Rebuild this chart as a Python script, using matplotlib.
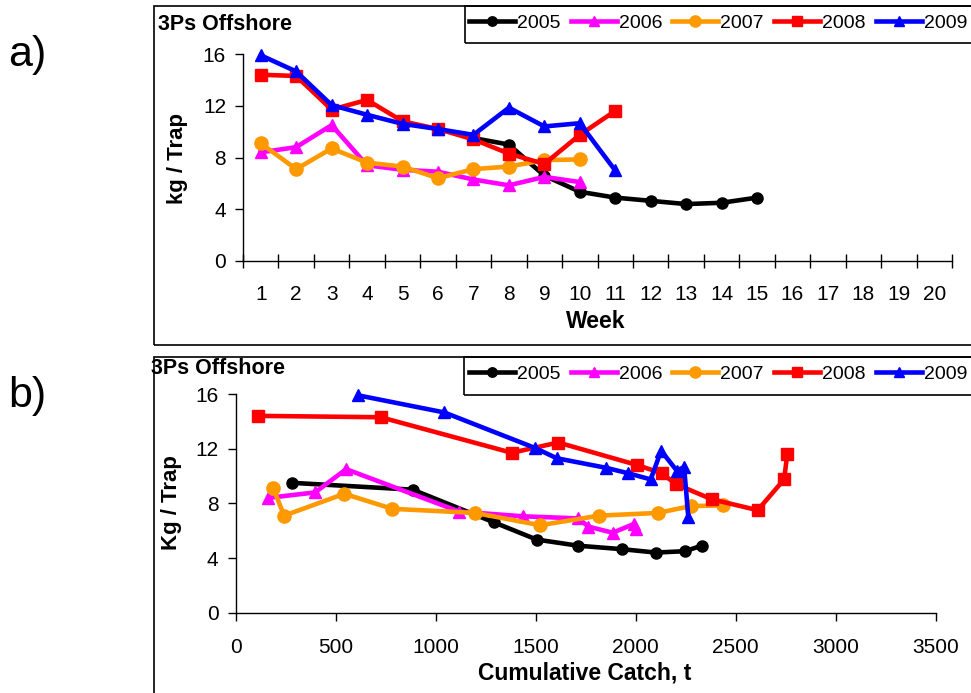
import matplotlib.pyplot as plt
from matplotlib.patches import Rectangle
from matplotlib.lines import Line2D

# ---- data ----
years = ["2005", "2006", "2007", "2008", "2009"]

weeks_2005 = [7, 8, 9, 10, 11, 12, 13, 14, 15]
weeks_2006 = [1, 2, 3, 4, 5, 6, 7, 8, 9, 10]
weeks_2007 = [1, 2, 3, 4, 5, 6, 7, 8, 9, 10]
weeks_2008 = [1, 2, 3, 4, 5, 6, 7, 8, 9, 10, 11]
weeks_2009 = [1, 2, 3, 4, 5, 6, 7, 8, 9, 10, 11]

kg_2005 = [9.5, 9.0, 6.6, 5.35, 4.9, 4.65, 4.4, 4.5, 4.9]
kg_2006 = [8.4, 8.8, 10.5, 7.4, 7.05, 6.9, 6.3, 5.85, 6.5, 6.1]
kg_2007 = [9.1, 7.1, 8.7, 7.6, 7.3, 6.4, 7.1, 7.3, 7.8, 7.85]
kg_2008 = [14.4, 14.3, 11.7, 12.45, 10.8, 10.2, 9.4, 8.3, 7.5, 9.75, 11.6]
kg_2009 = [15.9, 14.65, 12.05, 11.3, 10.6, 10.2, 9.75, 11.85, 10.4, 10.65, 7.0]

cum_2005 = [284, 886, 1294, 1506, 1714, 1931, 2102, 2247, 2331]
cum_2006 = [164, 398, 553, 1119, 1439, 1714, 1764, 1886, 1993, 2003]
cum_2007 = [189, 243, 544, 784, 1198, 1523, 1819, 2111, 2278, 2439]
cum_2008 = [114, 726, 1381, 1614, 2009, 2131, 2203, 2381, 2611, 2743, 2759]
cum_2009 = [614, 1044, 1498, 1606, 1853, 1964, 2076, 2128, 2206, 2243, 2264]

week_labels = [str(i) for i in range(1, 21)]

# ---- styles ----
colors = ["#000000", "#FF00FF", "#FF9900", "#FF0000", "#0000FF"]
markers = ["o", "^", "o", "s", "^"]
msizes = [8, 8, 9.5, 8.5, 8.5]
LW = 3.3

W, H = 971, 693
plt.rcParams["font.family"] = ["Liberation Sans", "DejaVu Sans"]


def fx(px):
    return px / W


def fy(py):
    return 1 - py / H


def rect(x0, y0, x1, y1):
    # axes rect from pixel corners (top-left origin)
    return [fx(x0), fy(y1), (x1 - x0) / W, (y1 - y0) / H]


fig = plt.figure(figsize=(W / 100, H / 100), dpi=100)

# panel borders and legend boxes (run off the right/bottom edge like the source)
for (x0, y0, x1, y1) in [(153.5, 6, 1000, 345), (153.5, 357, 1000, 720),
                         (465, 6, 1000, 43), (464, 357, 1000, 395)]:
    fig.add_artist(Rectangle((fx(x0), fy(y1)), (x1 - x0) / W, (y1 - y0) / H,
                             transform=fig.transFigure, fill=False,
                             edgecolor="black", linewidth=1.2, clip_on=False))

week_x = [weeks_2005, weeks_2006, weeks_2007, weeks_2008, weeks_2009]
cum_x = [cum_2005, cum_2006, cum_2007, cum_2008, cum_2009]
kg_y = [kg_2005, kg_2006, kg_2007, kg_2008, kg_2009]

# ---- a) kg/trap by week ----
ax1 = fig.add_axes(rect(243, 54, 952, 261))
for xs, ys, c, m, ms, lab in zip(week_x, kg_y, colors, markers, msizes, years):
    ax1.plot(xs, ys, color=c, marker=m, markersize=ms, lw=LW, label=lab,
             clip_on=False)
ax1.set_xlim(0.5, 20.5)
ax1.set_ylim(0, 16)
ax1.set_yticks([0, 4, 8, 12, 16])
ax1.set_xticks([i + 0.5 for i in range(0, 21)])
ax1.set_xticklabels([])
ax1.set_xticks(range(1, 21), minor=True)
ax1.set_xticklabels(week_labels, minor=True)
ax1.tick_params(axis="x", which="major", direction="inout", length=9.5, width=1)
ax1.tick_params(axis="x", which="minor", length=0, pad=17.5, labelsize=15)
ax1.tick_params(axis="y", direction="out", length=5.8, width=1, pad=6.4,
                labelsize=15)

# ---- b) kg/trap by cumulative catch ----
ax2 = fig.add_axes(rect(235.5, 394, 935.5, 612.7))
for xs, ys, c, m, ms, lab in zip(cum_x, kg_y, colors, markers, msizes, years):
    ax2.plot(xs, ys, color=c, marker=m, markersize=ms, lw=LW, label=lab,
             clip_on=False)
ax2.set_xlim(0, 3500)
ax2.set_ylim(0, 16)
ax2.set_yticks([0, 4, 8, 12, 16])
ax2.set_xticks(range(0, 3501, 500))
ax2.tick_params(axis="x", direction="out", length=5.8, width=1, pad=12.2,
                labelsize=15)
ax2.tick_params(axis="y", direction="out", length=5.8, width=1, pad=6.4,
                labelsize=15)

for ax in (ax1, ax2):
    ax.spines["top"].set_visible(False)
    ax.spines["right"].set_visible(False)
    ax.spines["left"].set_linewidth(1)
    ax.spines["bottom"].set_linewidth(1)
    ax.patch.set_alpha(0)

# ---- texts ----
fig.text(fx(158), fy(25), "3Ps Offshore", fontsize=15.5, fontweight="bold",
         va="center", ha="left")
fig.text(fx(151), fy(368), "3Ps Offshore", fontsize=15.5, fontweight="bold",
         va="center", ha="left")
fig.text(fx(596), fy(322), "Week", fontsize=16.5, fontweight="bold",
         ha="center", va="center")
fig.text(fx(585), fy(673), "Cumulative Catch, t", fontsize=16.5,
         fontweight="bold", ha="center", va="center")
fig.text(fx(177), fy(159), "kg / Trap", fontsize=16, fontweight="bold",
         rotation=90, ha="center", va="center")
fig.text(fx(172), fy(503), "Kg / Trap", fontsize=16, fontweight="bold",
         rotation=90, ha="center", va="center")
fig.text(fx(8), fy(55), "a)", fontsize=31, ha="left", va="center")
fig.text(fx(8), fy(396), "b)", fontsize=31, ha="left", va="center")

# ---- legends ----
handles = [Line2D([], [], color=c, marker=m, markersize=ms * 0.85, lw=LW)
           for c, m, ms in zip(colors, markers, msizes)]
for yc in (23, 374):
    fig.legend(handles, years, loc="center left", ncol=5, frameon=False,
               bbox_to_anchor=(fx(469), fy(yc)), bbox_transform=fig.transFigure,
               fontsize=14, handlelength=2.37, handletextpad=0.1,
               columnspacing=0.52, borderpad=0, borderaxespad=0)

fig.savefig("out.png", dpi=100)
